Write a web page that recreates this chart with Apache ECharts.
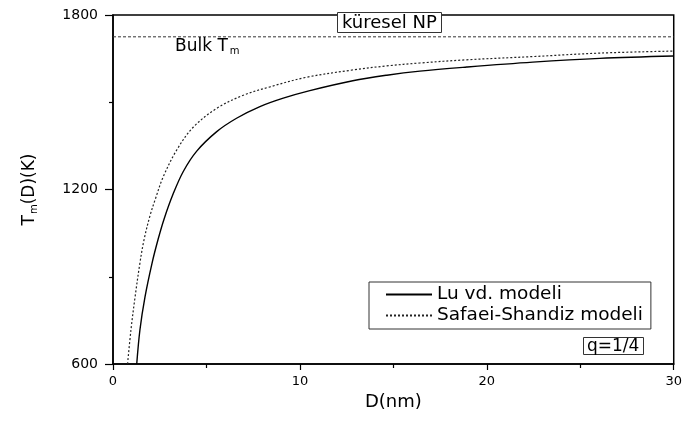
<!DOCTYPE html>
<html>
<head>
<meta charset="utf-8">
<script src="https://cdn.jsdelivr.net/npm/echarts@6/dist/echarts.min.js"></script>
<style>
  html, body { margin: 0; padding: 0; background: #fff; }
  #chart { width: 685px; height: 421px; }
</style>
</head>
<body>
<div id="chart"></div>
<script>
// ---- data ----
const luD = [1.27, 1.44, 1.71, 2.09, 2.41, 2.73, 3.22, 3.76, 4.48, 5.55, 6.61, 7.86, 9.11, 10.53, 12.83, 14.65, 16.42, 18.93, 22.46, 26.04, 30];
const luT = [600, 717, 830, 947, 1028, 1098, 1185, 1262, 1332, 1399, 1445, 1485, 1514, 1540, 1574, 1593, 1607, 1621, 1638, 1651, 1659];

const ssD = [0.78, 0.96, 1.18, 1.44, 1.66, 1.98, 2.27, 2.69, 3.41, 4.29, 5.55, 6.97, 8.40, 10.36, 12.83, 14.65, 16.42, 18.93, 22.46, 26.04, 30];
const ssT = [600, 717, 830, 947, 1027, 1110, 1168, 1244, 1336, 1414, 1479, 1524, 1553, 1586, 1611, 1625, 1635, 1646, 1657, 1669, 1676];

const bulkD = [0, 30];
const bulkT = [1725, 1725];

const xTicks = { min: 0, max: 30, interval: 10 };
const yTicks = { min: 600, max: 1800, interval: 600 };

const seriesNames = ['Lu vd. modeli', 'Safaei-Shandiz modeli'];

const pairs = (xs, ys) => xs.map((x, i) => [x, ys[i]]);
const FONT = 'DejaVu Sans';

const chart = echarts.init(document.getElementById('chart'), null, { renderer: 'canvas' });
chart.setOption({
  animation: false,
  backgroundColor: '#fff',
  textStyle: { fontFamily: FONT, color: '#000' },
  grid: {
    left: 113, right: 11, top: 15, bottom: 57,
    show: true, borderColor: '#000', borderWidth: 1.5, backgroundColor: 'transparent'
  },
  title: [
    {
      text: 'küresel NP', left: 337, top: 12,
      backgroundColor: '#fff', borderColor: '#333', borderWidth: 1,
      padding: [1, 5, 0, 5],
      textStyle: { fontFamily: FONT, fontSize: 18, fontWeight: 'normal', color: '#000', lineHeight: 20 }
    },
    {
      text: 'q=1/4', left: 583, top: 337,
      backgroundColor: '#fff', borderColor: '#333', borderWidth: 1,
      padding: [1, 4, 0, 4],
      textStyle: { fontFamily: FONT, fontSize: 17, fontWeight: 'normal', color: '#000', lineHeight: 17 }
    }
  ],
  legend: {
    data: seriesNames,
    orient: 'vertical',
    left: 369, top: 282,
    padding: [3, 8, 4, 16],
    itemWidth: 46, itemHeight: 18, itemGap: 2,
    itemStyle: { opacity: 0 },
    backgroundColor: '#fff', borderColor: '#333', borderWidth: 1,
    textStyle: { fontFamily: FONT, fontSize: 18.5, color: '#000', lineHeight: 18 }
  },
  xAxis: {
    type: 'value', min: xTicks.min, max: xTicks.max, interval: xTicks.interval,
    name: 'D(nm)', nameLocation: 'middle', nameGap: 27,
    nameTextStyle: { fontFamily: FONT, fontSize: 18, color: '#000' },
    axisLine: { show: true, onZero: false, lineStyle: { color: '#000', width: 1.5 } },
    axisTick: { show: true, length: 6, lineStyle: { color: '#000', width: 1.2 } },
    minorTick: { show: true, splitNumber: 2, length: 4, lineStyle: { color: '#000', width: 1.2 } },
    axisLabel: { fontFamily: FONT, fontSize: 13, color: '#000', margin: 11, formatter: v => String(v) },
    splitLine: { show: false }
  },
  yAxis: {
    type: 'value', min: yTicks.min, max: yTicks.max, interval: yTicks.interval,
    name: '{a|T}{b|m}{a|(D)(K)}', nameLocation: 'middle', nameGap: 74,
    nameTextStyle: {
      fontFamily: FONT, color: '#000',
      rich: {
        a: { fontFamily: FONT, fontSize: 17, color: '#000' },
        b: { fontFamily: FONT, fontSize: 10, color: '#000', padding: [9, 0, 0, 1] }
      }
    },
    axisLine: { show: true, onZero: false, lineStyle: { color: '#000', width: 1.5 } },
    axisTick: { show: true, length: 8, lineStyle: { color: '#000', width: 1.2 } },
    minorTick: { show: true, splitNumber: 2, length: 4, lineStyle: { color: '#000', width: 1.2 } },
    axisLabel: { fontFamily: FONT, fontSize: 14, color: '#000', margin: 15, formatter: v => String(v) },
    splitLine: { show: false }
  },
  graphic: [
    {
      type: 'text', left: 175, top: 38, z: 10,
      style: {
        text: '{a|Bulk T}{b|m}',
        rich: {
          a: { fontFamily: FONT, fontSize: 17, fill: '#000' },
          b: { fontFamily: FONT, fontSize: 10, fill: '#000', padding: [9, 0, 0, 2] }
        }
      }
    }
  ],
  series: [
    {
      name: seriesNames[0], type: 'line', data: pairs(luD, luT),
      showSymbol: false, symbol: 'none', smooth: 0.35,
      lineStyle: { color: '#000', width: 1.4, type: 'solid' },
      itemStyle: { color: '#000' }
    },
    {
      name: seriesNames[1], type: 'line', data: pairs(ssD, ssT),
      showSymbol: false, symbol: 'none', smooth: 0.35,
      lineStyle: { color: '#222', width: 1.2, type: [2, 2] },
      itemStyle: { color: '#222' }
    },
    {
      name: 'Bulk', type: 'line', data: pairs(bulkD, bulkT),
      showSymbol: false, symbol: 'none',
      lineStyle: { color: '#333', width: 1, type: [3, 2] },
      itemStyle: { color: '#333' }
    }
  ]
});
</script>
</body>
</html>
